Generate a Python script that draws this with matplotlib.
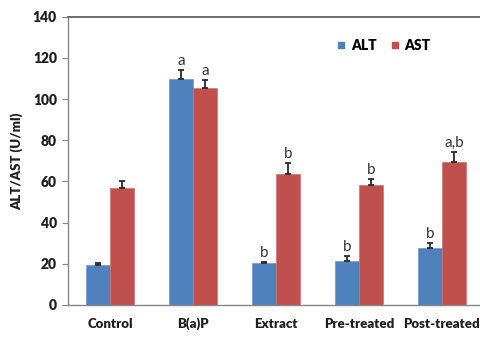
import numpy as np
import matplotlib.pyplot as plt
from matplotlib.lines import Line2D

# ── Data ──────────────────────────────────────────────────────────────────────

groups = ['Control', 'B(a)P', 'Extract', 'Pre-treated', 'Post-treated']
alt = [19.2, 109.8, 20.3, 21.4, 27.6]
alt_err = [1.2, 4.3, 0.8, 2.4, 2.5]
ast = [57.0, 105.3, 63.7, 58.3, 69.4]
ast_err = [3.0, 4.1, 5.2, 3.0, 5.1]
alt_sig = ['', 'a', 'b', 'b', 'b']
ast_sig = ['', 'a', 'b', 'b', 'a,b']

# ── Style ─────────────────────────────────────────────────────────────────────

plt.rcParams['font.family'] = ['Lato', 'DejaVu Sans']
ALT_COLOR = '#4F81BD'
AST_COLOR = '#C0504D'
GREY = '#868686'
TXT = '#1e1e1e'
WEIGHT = 'heavy'

fig = plt.figure(figsize=(4.8, 3.38), dpi=100)
ax = fig.add_axes([68 / 480, 33 / 338, 1 - 68 / 480, (305 - 16.7) / 338])

x = np.arange(len(groups))
w = 0.29

ax.bar(x - w / 2, alt, w, color=ALT_COLOR, edgecolor='#6f98cc',
       linewidth=0.5, zorder=2)
ax.bar(x + w / 2, ast, w, color=AST_COLOR, edgecolor='#d07270',
       linewidth=0.5, zorder=2)

# one-sided error bars, caps on top
ax.errorbar(x - w / 2, alt, yerr=[np.zeros(len(alt)), alt_err], fmt='none',
            ecolor='#2a2a2a', elinewidth=1.3, capsize=2.5, capthick=1.3, zorder=3)
ax.errorbar(x + w / 2, ast, yerr=[np.zeros(len(ast)), ast_err], fmt='none',
            ecolor='#2a2a2a', elinewidth=1.3, capsize=2.5, capthick=1.3, zorder=3)

# significance letters
for xi, v, e, s in zip(x - w / 2, alt, alt_err, alt_sig):
    if s:
        ax.text(xi, v + e + 0.8, s, ha='center', va='bottom', fontsize=11,
                color='#333333')
for xi, v, e, s in zip(x + w / 2, ast, ast_err, ast_sig):
    if s:
        ax.text(xi, v + e + 0.8, s, ha='center', va='bottom', fontsize=11,
                color='#333333')

# ── Axes ──────────────────────────────────────────────────────────────────────

ax.set_ylim(0, 140)
ax.set_yticks(np.arange(0, 141, 20))
ax.set_xlim(-0.506, 4.46)
ax.set_xticks(x)
ax.set_xticklabels(groups, fontweight=WEIGHT, fontsize=9.5, color=TXT)
ax.tick_params(axis='x', length=0, pad=9)
ax.tick_params(axis='y', length=4, color=GREY, labelsize=10, pad=4,
               labelcolor=TXT)
for lbl in ax.get_yticklabels():
    lbl.set_fontweight(WEIGHT)

ax.spines['right'].set_visible(False)
for side in ['left', 'bottom']:
    ax.spines[side].set_color(GREY)
    ax.spines[side].set_linewidth(1.0)
ax.spines['top'].set_color('#555555')
ax.spines['top'].set_linewidth(1.2)

ax.set_ylabel('ALT/AST (U/ml)', fontweight=WEIGHT, fontsize=9.5,
              color=TXT, labelpad=7)

handles = [Line2D([], [], marker='s', linestyle='none', markersize=5,
                  color=ALT_COLOR, label='ALT'),
           Line2D([], [], marker='s', linestyle='none', markersize=5,
                  color=AST_COLOR, label='AST')]
ax.legend(handles=handles, loc='upper left', bbox_to_anchor=(0.62, 0.965),
          ncol=2, frameon=False, handlelength=0.8, handletextpad=0.3,
          columnspacing=0.9, prop={'weight': WEIGHT, 'size': 10})

fig.savefig('out.png', dpi=100)
plt.close(fig)
